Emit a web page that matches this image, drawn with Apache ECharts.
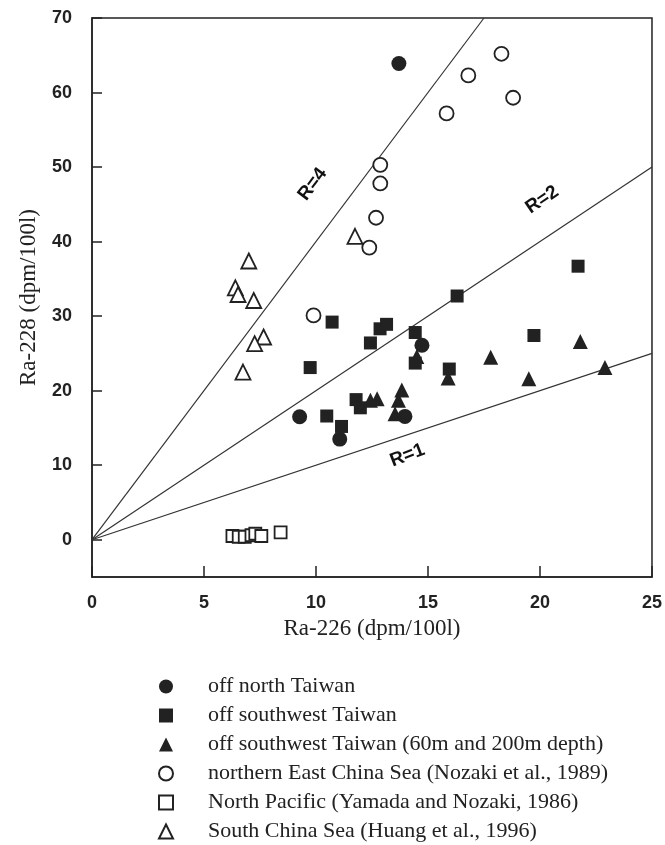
<!DOCTYPE html>
<html>
<head>
<meta charset="utf-8">
<script src="https://cdn.jsdelivr.net/npm/echarts@6/dist/echarts.min.js"></script>
<style>html,body{margin:0;padding:0;background:#fff;}#chart{width:665px;height:845px;}</style>
</head>
<body>
<div id="chart"></div>
<script>
// ---- data (Ra-226, Ra-228) ----
var northTaiwan = [[13.7,63.9],[9.27,16.5],[11.06,13.5],[13.97,16.55],[14.73,26.1]];
var swTaiwan = [[9.74,23.1],[10.72,29.2],[12.86,28.3],[13.15,28.9],[12.43,26.4],[14.43,27.8],[14.43,23.7],[15.95,22.9],[11.79,18.8],[11.98,17.7],[10.48,16.6],[11.14,15.2],[16.3,32.7],[19.73,27.4],[21.7,36.7]];
var swTaiwanDeep = [[12.43,18.7],[12.73,18.9],[13.83,20.1],[13.68,18.7],[13.53,16.9],[14.5,24.6],[15.9,21.7],[17.8,24.5],[19.5,21.6],[21.8,26.6],[22.9,23.1]];
var eastChinaSea = [[18.28,65.2],[16.8,62.3],[18.8,59.3],[15.83,57.2],[12.87,50.3],[12.87,47.8],[12.68,43.2],[12.38,39.2],[9.89,30.1]];
var northPacific = [[6.27,0.5],[6.55,0.4],[6.82,0.4],[7.12,0.6],[7.29,0.8],[7.56,0.5],[8.42,1.0]];
var southChinaSea = [[7.0,37.4],[6.4,33.8],[6.52,32.9],[7.22,32.1],[7.66,27.2],[7.26,26.3],[6.74,22.5],[11.74,40.7]];
// ratio lines Ra-228/Ra-226 = R
var lineR4 = [[0,0],[17.5,70]];
var lineR2 = [[0,0],[25,50]];
var lineR1 = [[0,0],[25,25]];
var yTicks = [0,10,20,30,40,50,60,70];
var seriesNames = ['off north Taiwan','off southwest Taiwan','off southwest Taiwan (60m and 200m depth)','northern East China Sea (Nozaki et al., 1989)','North Pacific (Yamada and Nozaki, 1986)','South China Sea (Huang et al., 1996)'];

var ink = '#222';
var serif = "'Liberation Serif','Times New Roman',serif";
var sans = "'Liberation Sans',Arial,sans-serif";

function refLine(d){
  return {type:'line', data:d, symbol:'none', silent:true, z:1,
    lineStyle:{color:'#333', width:1.2}, animation:false};
}
function lineLabel(txt, pos, rot){
  return {type:'scatter', data:[pos], symbolSize:1, silent:true, z:3,
    itemStyle:{color:'rgba(0,0,0,0)'},
    label:{show:true, position:'inside', formatter:txt, rotate:rot,
      fontFamily:sans, fontWeight:'bold', fontSize:19, color:'#111',
      textBorderWidth:0, textShadowBlur:0, opacity:1}};
}
function filled(name, d, sym, size){
  return {type:'scatter', name:name, data:d, symbol:sym, symbolSize:size, z:5,
    itemStyle:{color:ink, opacity:1}};
}
function open(name, d, sym, size){
  return {type:'scatter', name:name, data:d, symbol:sym, symbolSize:size, z:4,
    itemStyle:{color:'#fff', borderColor:ink, borderWidth:1.8, opacity:1}};
}

var chart = echarts.init(document.getElementById('chart'), null, {renderer:'canvas'});
chart.setOption({
  animation:false,
  backgroundColor:'#fff',
  grid:{left:92, right:13, top:18, bottom:268, show:true, borderColor:ink, borderWidth:1.5, backgroundColor:'transparent'},
  xAxis:{type:'value', min:0, max:25, interval:5,
    name:'Ra-226 (dpm/100l)', nameLocation:'middle', nameGap:40,
    nameTextStyle:{fontFamily:serif, fontSize:23, color:ink},
    axisLine:{onZero:false, lineStyle:{color:ink, width:1.5}},
    axisTick:{inside:true, length:11, lineStyle:{color:ink, width:1.5}},
    axisLabel:{fontFamily:sans, fontWeight:'bold', fontSize:18, color:ink, margin:17},
    splitLine:{show:false}},
  yAxis:{type:'value', min:-5, max:70,
    name:'Ra-228 (dpm/100l)', nameLocation:'middle', nameGap:52, nameRotate:90,
    nameTextStyle:{fontFamily:serif, fontSize:23, color:ink},
    axisLine:{onZero:false, lineStyle:{color:ink, width:1.5}},
    axisTick:{inside:true, length:10, customValues:yTicks, lineStyle:{color:ink, width:1.5}},
    axisLabel:{fontFamily:sans, fontWeight:'bold', fontSize:18, color:ink, margin:20, customValues:yTicks},
    splitLine:{show:false}},
  legend:{orient:'vertical', left:158, top:675, padding:0, itemWidth:14, itemHeight:14, itemGap:6,
    data:seriesNames, selectedMode:false,
    textStyle:{fontFamily:serif, fontSize:22, color:ink, lineHeight:23, padding:[0,0,0,30]}},
  series:[
    refLine(lineR4), refLine(lineR2), refLine(lineR1),
    lineLabel('R=4',[9.85,47.7],53),
    lineLabel('R=2',[20.1,45.6],34),
    lineLabel('R=1',[14.08,11.3],21),
    open(seriesNames[3], eastChinaSea, 'circle', 14),
    open(seriesNames[4], northPacific, 'rect', 12),
    open(seriesNames[5], southChinaSea, 'triangle', 15),
    filled(seriesNames[0], northTaiwan, 'circle', 15),
    filled(seriesNames[1], swTaiwan, 'rect', 13),
    filled(seriesNames[2], swTaiwanDeep, 'triangle', 15)
  ]
});
</script>
</body>
</html>
